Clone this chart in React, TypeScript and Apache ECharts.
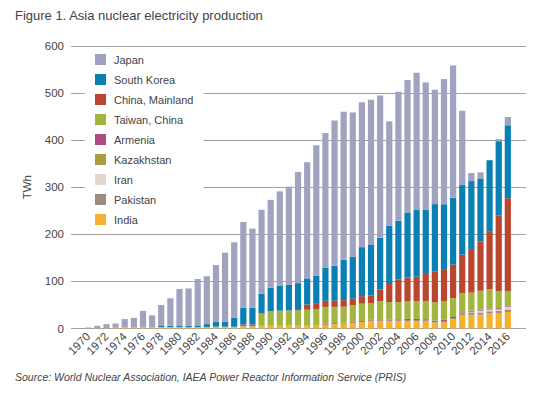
import React, { useEffect, useRef } from "react";
import * as echarts from "echarts";

const years = [
  "1970","1971","1972","1973","1974","1975","1976","1977","1978","1979",
  "1980","1981","1982","1983","1984","1985","1986","1987","1988","1989",
  "1990","1991","1992","1993","1994","1995","1996","1997","1998","1999",
  "2000","2001","2002","2003","2004","2005","2006","2007","2008","2009",
  "2010","2011","2012","2013","2014","2015","2016",
];

const japan = [1.7,5.2,8.3,8.8,17.7,19.8,34.4,25,44.7,58,
  77.5,79,98.5,101.7,119.7,146.2,159.7,181.7,167.7,178.2,
  186.2,200.7,208.2,235.7,246.7,276.5,285.6,308.6,314.2,306.2,
  307.3,308.1,302.3,221.3,274,281.8,291.4,269.6,242.7,265.6,
  280.9,157.8,17.1,14.1,0,4.4,17.5];
const southKorea = [0,0,0,0,0,0,0,0,2.3,3.0,
  3.5,3.0,3.5,6,11,11,19.5,35.5,35.5,42,
  50.5,52.5,54.5,55,55.5,58.7,70.6,74.2,85.6,89.1,
  104,107.4,109.5,121.7,124.4,137,141.5,135,143.5,139.3,
  142,147.6,144,132.3,150.6,158,154.8];
const chinaMainland = [0,0,0,0,0,0,0,0,0,0,
  0,0,0,0,0,0,0,0,0,0,
  0,0,0,2.5,11,13,13,13,14,14,
  16,16.5,25,40.5,48,50,51.5,60,65,66,
  71,82,92.7,105,123,160,197];
const taiwan = [0,0,0,0,0,0,0,0,0,0,
  0,0,0,0,0,0,0,0,0,26,
  30,32,32,33,34,33.5,35.5,34.5,34,35,
  37,34.5,38.5,37,36.5,38,38,38,39,40,
  40,40.5,38.5,40,41,36.5,31];
const armenia = [0,0,0,0,0,0,0,0,0,0,
  0,0,0,0,0,0,0,3.5,3.5,0.5,
  0,0,0,0,0,0,2.0,1.6,1.4,2.1,
  1.8,2.0,2.1,1.8,2.2,2.5,2.4,2.4,2.3,2.3,
  2.3,2.4,2.1,2.2,2.3,2.6,2.2];
const kazakhstan = [0,0,0,0.4,0.4,0.4,0.4,0.4,0.4,0.4,
  0.4,0.4,0.4,0.4,0.4,0.4,0.4,0.4,0.4,0.4,
  0.4,0.4,0.4,0.4,0.4,0.4,0.4,0.4,0.4,0.4,
  0,0,0,0,0,0,0,0,0,0,
  0,0,0,0,0,0,0];
const iran = [0,0,0,0,0,0,0,0,0,0,
  0,0,0,0,0,0,0,0,0,0,
  0,0,0,0,0,0,0,0,0,0,
  0,0,0,0,0,0,0,0,0,0,
  0,0.1,1.3,3.9,3.7,3.2,5.9];
const pakistan = [0,0,0.2,0.4,0.4,0.4,0.4,0.4,0.4,0.4,
  0.4,0.4,0.4,0.4,0.4,0.4,0.4,0.4,0.4,0.4,
  0.4,0.4,0.4,0.4,0.4,0.4,0.4,0.4,0.4,0.4,
  0.4,2.0,1.8,1.8,1.9,2.4,2.5,2.3,1.7,2.6,
  2.6,3.8,5.3,4.4,4.6,4.3,5.4];
const india = [0.3,0.5,0.8,1.0,1.5,2.0,2.2,2.2,2.2,2.2,
  2.2,2.2,2.2,2.5,3.0,3.0,3.0,4.5,4.5,4.5,
  5.5,5.0,5.5,5.0,5.0,6.5,7.5,9.0,10.0,11.5,
  13.5,15.0,15.5,15.5,15.5,15.5,15.5,15.0,12.5,13.5,
  19.5,28.0,29.0,29.5,32.0,33.0,35.0];

const yTicks = [0, 100, 200, 300, 400, 500, 600];

const seriesDefs = [
  { name: "India", data: india, color: "#f4b22f" },
  { name: "Pakistan", data: pakistan, color: "#9b8e7f" },
  { name: "Iran", data: iran, color: "#e2d8cf" },
  { name: "Kazakhstan", data: kazakhstan, color: "#aa9c42" },
  { name: "Armenia", data: armenia, color: "#b04b7f" },
  { name: "Taiwan, China", data: taiwan, color: "#a3b43f" },
  { name: "China, Mainland", data: chinaMainland, color: "#bb4630" },
  { name: "South Korea", data: southKorea, color: "#0a7fb3" },
  { name: "Japan", data: japan, color: "#a0a3bf" },
];

const legendOrder = [
  "Japan", "South Korea", "China, Mainland", "Taiwan, China", "Armenia",
  "Kazakhstan", "Iran", "Pakistan", "India",
];

const FONT = "'Liberation Sans', Arial, sans-serif";
const TEXT = "#444444";

export default function App() {
  const ref = useRef<HTMLDivElement>(null);
  useEffect(() => {
    if (!ref.current) return;
    const chart = echarts.init(ref.current, null, { renderer: "svg" });
    chart.setOption({
      animation: false,
      backgroundColor: "#ffffff",
      textStyle: { fontFamily: FONT },
      title: [
        {
          text: "Figure 1. Asia nuclear electricity production",
          left: 15,
          top: 9,
          padding: 0,
          textStyle: { fontFamily: FONT, fontSize: 13, fontWeight: "normal", color: TEXT },
        },
        {
          text: "Source: World Nuclear Association, IAEA Power Reactor Information Service (PRIS)",
          left: 15,
          top: 371,
          padding: 0,
          textStyle: { fontFamily: FONT, fontSize: 10.5, fontStyle: "italic", fontWeight: "normal", color: TEXT },
        },
      ],
      legend: {
        data: legendOrder,
        orient: "vertical",
        left: 85,
        top: 49,
        padding: [5, 10, 5, 10],
        backgroundColor: "#ffffff",
        itemWidth: 11,
        itemHeight: 11,
        itemGap: 9,
        icon: "rect",
        textStyle: { fontFamily: FONT, fontSize: 11, color: TEXT, padding: [0, 0, 0, 3] },
        z: 10,
      },
      grid: [
        { left: 71, right: 21, top: 45.8, bottom: 68.5 },
        { left: 83.7, right: 34.6, top: 45.8, bottom: 68.5 },
      ],
      xAxis: [
        { type: "value", gridIndex: 0, show: false, min: 0, max: 1 },
        {
          type: "category",
          gridIndex: 1,
          data: years,
          axisLine: { show: false },
          axisTick: { show: false },
          axisLabel: {
            interval: 1,
            rotate: 45,
            margin: 6,
            fontFamily: FONT,
            fontSize: 11.5,
            color: TEXT,
          },
        },
      ],
      yAxis: [
        {
          type: "value",
          gridIndex: 0,
          min: yTicks[0],
          max: yTicks[yTicks.length - 1],
          interval: 100,
          name: "TWh",
          nameLocation: "middle",
          nameGap: 38,
          nameRotate: 90,
          nameTextStyle: { fontFamily: FONT, fontSize: 11.5, color: TEXT },
          axisLine: { show: false },
          axisTick: { show: false },
          axisLabel: { margin: 7, fontFamily: FONT, fontSize: 11.5, color: TEXT },
          splitLine: { lineStyle: { color: "#a3a3a3", width: 1 } },
        },
        {
          type: "value",
          gridIndex: 1,
          min: 0,
          max: 600,
          interval: 100,
          show: false,
          splitLine: { show: false },
        },
      ],
      series: seriesDefs.map((s) => ({
        name: s.name,
        type: "bar",
        stack: "total",
        xAxisIndex: 1,
        yAxisIndex: 1,
        data: s.data,
        barWidth: "68%",
        itemStyle: { color: s.color },
      })),
    });
    return () => chart.dispose();
  }, []);
  return (
    <div
      ref={ref}
      style={{ position: "fixed", left: 0, top: 0, width: 547, height: 397, background: "#fff" }}
    />
  );
}
